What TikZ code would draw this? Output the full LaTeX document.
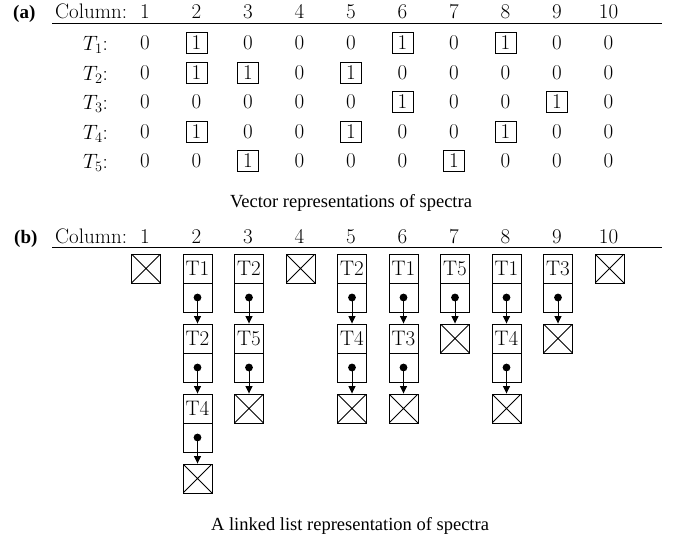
\documentclass[tikz,border=0pt]{standalone}
\usepackage{fontspec}
\newfontfamily\capfont{Liberation Serif}
\usetikzlibrary{arrows.meta}
\tikzset{
  txt/.style={font=\fontsize{21}{25}\selectfont, inner sep=0pt},
  captext/.style={font=\capfont\fontsize{18.5}{22}\selectfont, inner sep=0pt},
  partlabel/.style={font=\capfont\bfseries\fontsize{19}{22}\selectfont, inner sep=0pt},
  onebox/.style={draw, line width=0.8pt, minimum width=21pt, minimum height=21pt, inner sep=0pt},
  cell/.style={draw, line width=0.9pt, minimum width=29pt, minimum height=29pt,
    inner sep=0pt, font=\fontsize{21}{25}\selectfont},
  nil/.style={cell, path picture={
    \draw[line width=0.8pt] (path picture bounding box.north west) -- (path picture bounding box.south east)
      (path picture bounding box.south west) -- (path picture bounding box.north east);}},
  ptr/.style={-{Triangle[length=7.5pt,width=7pt]}, line width=0.9pt},
  headrule/.style={line width=1.1pt},
}
\begin{document}
\begin{tikzpicture}[x=1pt,y=-1pt]
\useasboundingbox (0,0) rectangle (674,536);

% ---------------- (a) vector representation ----------------
\node[partlabel, anchor=base west] (pa) at (13,18) {(a)};
\node[txt, anchor=base west] (ca) at (55,18) {Column:};
\coordinate (ra1) at (52,23.5);
\coordinate (ra2) at (662,23.5);
\draw[headrule] (ra1) -- (ra2);
\foreach \c in {1,...,10}{
  \pgfmathsetmacro\xx{145+51.5*(\c-1)}
  \node[txt, anchor=base] (ha\c) at (\xx,18) {\c};
}
% one row per spectrum, ten entries each; ones are boxed
\foreach \r/\vals in {1/{0,1,0,0,0,1,0,1,0,0},
                      2/{0,1,1,0,1,0,0,0,0,0},
                      3/{0,0,0,0,0,1,0,0,1,0},
                      4/{0,1,0,0,1,0,0,1,0,0},
                      5/{0,0,1,0,0,0,1,0,0,0}}{
  \pgfmathsetmacro\yy{43+29.5*(\r-1)}
  \node[txt, anchor=east] (t\r) at (108,\yy+2) {$T_{\r}$:};
  \foreach \v [count=\c] in \vals{
    \pgfmathsetmacro\xx{145+51.5*(\c-1)}
    \ifnum\v=1
      \node[txt, onebox] (v\r-\c) at (\xx,\yy) {1};
    \else
      \node[txt] (v\r-\c) at (\xx,\yy) {0};
    \fi
  }
}
\node[captext, anchor=base] (capa) at (351,207) {Vector representations of spectra};

% ---------------- (b) linked list representation ----------------
\node[partlabel, anchor=base west] (pb) at (14,243) {(b)};
\node[txt, anchor=base west] (cb) at (55,243) {Column:};
\coordinate (rb1) at (52,247.5);
\coordinate (rb2) at (662,247.5);
\draw[headrule] (rb1) -- (rb2);
\foreach \c in {1,...,10}{
  \pgfmathsetmacro\xx{145+51.5*(\c-1)}
  \node[txt, anchor=base] (hb\c) at (\xx,243) {\c};
}
% empty columns
\foreach \c in {1,4,10}{
  \pgfmathsetmacro\xx{145+51.5*(\c-1)+1}
  \node[nil] (n\c) at (\xx,268.5) {};
}
% non-empty columns: column / entries / length
\foreach \c/\items/\len in {2/{T1,T2,T4}/3, 3/{T2,T5}/2, 5/{T2,T4}/2, 6/{T1,T3}/2,
                            7/{T5}/1, 8/{T1,T4}/2, 9/{T3}/1}{
  \pgfmathsetmacro\xx{145+51.5*(\c-1)+1}
  \foreach \t [count=\k] in \items{
    \pgfmathsetmacro\ytop{254+70*(\k-1)}
    \node[cell] (l\c-\k) at (\xx,\ytop+14.5) {\t};
    \node[cell] (p\c-\k) at (\xx,\ytop+43.5) {};
    \fill (p\c-\k.center) circle (3.9);
    \ifnum\k>1
      \pgfmathtruncatemacro\prev{\k-1}
      \draw[ptr] (p\c-\prev.center) -- (l\c-\k.north);
    \fi
  }
  \pgfmathsetmacro\ynil{254+70*\len+14.5}
  \node[nil] (n\c) at (\xx,\ynil) {};
  \draw[ptr] (p\c-\len.center) -- (n\c.north);
}
\node[captext, anchor=base] (capb) at (350,530) {A linked list representation of spectra};
\end{tikzpicture}
\end{document}
